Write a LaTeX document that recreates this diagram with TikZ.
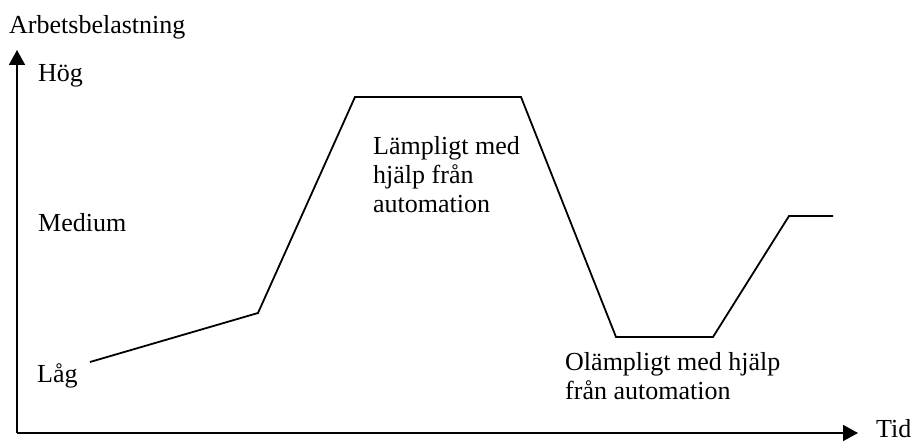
\documentclass[tikz,border=0pt]{standalone}
\usepackage{fontspec}
\setmainfont{Liberation Serif}
\usetikzlibrary{arrows.meta}
\begin{document}
\begin{tikzpicture}[x=1pt,y=-1pt,
  axis/.style={line width=1.8pt,-{Triangle[length=15pt,width=16pt]}},
  curve/.style={line width=1.8pt,line join=miter},
  lbl/.style={anchor=base west,inner sep=0pt,font=\fontsize{26}{29}\selectfont,align=left}]
\useasboundingbox (0,0) rectangle (913,443);
\coordinate (o) at (17,433);
\coordinate (ytip) at (17,50);
\coordinate (xtip) at (858,433);
\draw[axis] (o) -- (ytip);
\draw[axis] (o) -- (xtip);
\coordinate (p1) at (90,362);
\coordinate (p2) at (258,313);
\coordinate (p3) at (355,97);
\coordinate (p4) at (521,97);
\coordinate (p5) at (616,337);
\coordinate (p6) at (713,337);
\coordinate (p7) at (789,216);
\coordinate (p8) at (833,216);
\draw[curve] (p1) -- (p2) -- (p3) -- (p4) -- (p5) -- (p6) -- (p7) -- (p8);
\node[lbl] (ylab) at (9,34) {Arbetsbelastning};
\node[lbl] (hog) at (38,82) {Hög};
\node[lbl] (med) at (38,232) {Medium};
\node[lbl] (lag) at (37,383) {Låg};
\node[lbl] (tid) at (876,438) {Tid};
\node[lbl] (lamp) at (373,213) {Lämpligt med\\hjälp från\\automation};
\node[lbl] (olamp) at (565,400) {Olämpligt med hjälp\\från automation};
\end{tikzpicture}
\end{document}
